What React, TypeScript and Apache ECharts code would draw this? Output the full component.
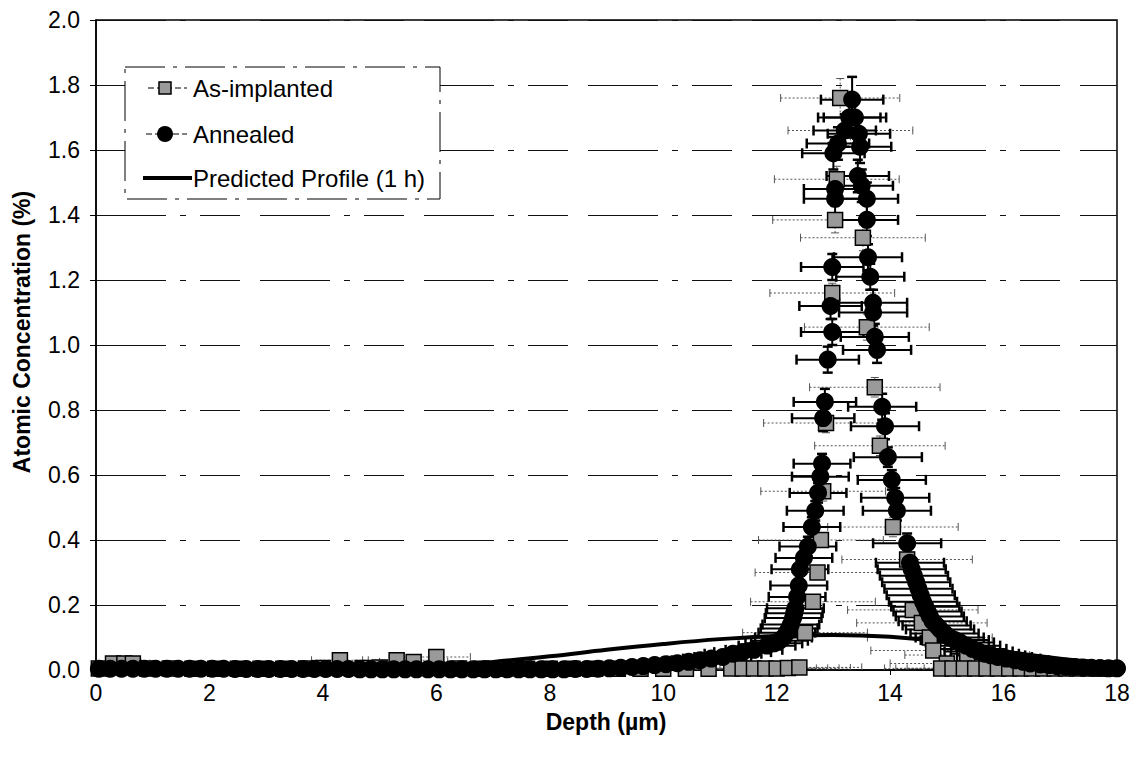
import React, { useEffect, useRef } from "react";
import * as echarts from "echarts";

// ---- axis definitions ----
const xMin = 0;
const xMax = 18;
const xStep = 2;
const yMin = 0;
const yMax = 2.0;
const yStep = 0.2;

const seriesNames = ["As-implanted", "Annealed", "Predicted Profile (1 h)"];
const xTitle = "Depth (\u00b5m)";
const yTitle = "Atomic Concentration (%)";

// ---- data: [depth, concentration, depth error, concentration error] ----
const asImplantedBase: number[][] = [
  [0.05, 0.005, 0.3, 0.01], [0.3, 0.02, 0.3, 0.01], [0.5, 0.02, 0.3, 0.01], [0.65, 0.02, 0.3, 0.01],
  [0.9, 0.005, 0.4, 0.01], [1.3, 0.005, 0.4, 0.01], [1.7, 0.004, 0.4, 0.01], [2.1, 0.004, 0.5, 0.01],
  [2.5, 0.004, 0.5, 0.01], [2.9, 0.004, 0.5, 0.01], [3.3, 0.004, 0.5, 0.01], [3.7, 0.005, 0.5, 0.01],
  [4.0, 0.006, 0.5, 0.01], [4.3, 0.03, 0.5, 0.01], [4.7, 0.006, 0.6, 0.01], [5.0, 0.008, 0.6, 0.01],
  [5.3, 0.03, 0.6, 0.01], [5.6, 0.025, 0.6, 0.01], [6.0, 0.04, 0.6, 0.01], [6.4, 0.005, 0.7, 0.01],
  [6.8, 0.004, 0.7, 0.01], [7.2, 0.004, 0.7, 0.01], [7.6, 0.004, 0.8, 0.01], [8.0, 0.004, 0.8, 0.01],
  [8.4, 0.004, 0.8, 0.01], [8.8, 0.004, 0.9, 0.01], [9.2, 0.004, 0.9, 0.01], [9.6, 0.004, 1.0, 0.01],
  [10.0, 0.004, 1.0, 0.01], [10.4, 0.004, 1.0, 0.01], [10.8, 0.004, 1.0, 0.01], [11.2, 0.005, 1.1, 0.01],
  [11.4, 0.005, 1.1, 0.01], [11.6, 0.005, 1.1, 0.01], [11.8, 0.005, 1.1, 0.01], [12.0, 0.005, 1.1, 0.01],
  [12.2, 0.006, 1.1, 0.01], [12.4, 0.008, 1.1, 0.01],
];

const asImplantedPeak: number[][] = [
  [12.5, 0.115, 1.1, 0.02], [12.64, 0.21, 1.1, 0.02], [12.72, 0.3, 1.1, 0.02], [12.78, 0.4, 1.1, 0.02],
  [12.82, 0.55, 1.1, 0.03], [12.87, 0.76, 1.1, 0.03], [12.98, 1.16, 1.1, 0.03], [13.03, 1.385, 1.1, 0.04],
  [13.06, 1.51, 1.1, 0.04], [13.12, 1.76, 1.05, 0.06], [13.3, 1.66, 1.1, 0.05], [13.52, 1.33, 1.1, 0.04],
  [13.59, 1.055, 1.1, 0.04], [13.73, 0.87, 1.15, 0.03], [13.82, 0.69, 1.15, 0.03], [14.05, 0.44, 1.15, 0.03],
  [14.3, 0.34, 1.15, 0.03], [14.4, 0.185, 1.15, 0.02], [14.56, 0.145, 1.15, 0.02], [14.7, 0.1, 1.1, 0.02],
  [14.76, 0.06, 1.1, 0.02], [15.36, 0.046, 1.1, 0.02], [15.0, 0.02, 1.0, 0.01],
];

const asImplantedTail: number[][] = [
  [14.9, 0.005, 1.0, 0.01], [15.1, 0.005, 1.0, 0.01], [15.3, 0.005, 1.0, 0.01], [15.5, 0.005, 0.9, 0.01],
  [15.7, 0.005, 0.9, 0.01], [15.9, 0.005, 0.9, 0.01], [16.1, 0.005, 0.8, 0.01], [16.3, 0.005, 0.8, 0.01],
  [16.5, 0.005, 0.8, 0.01], [16.7, 0.005, 0.7, 0.01], [16.9, 0.005, 0.7, 0.01], [17.1, 0.005, 0.6, 0.01],
  [17.3, 0.005, 0.6, 0.01], [17.5, 0.005, 0.5, 0.01], [17.7, 0.005, 0.4, 0.01], [17.9, 0.005, 0.3, 0.01],
];

const annealedBase: number[][] = [
  [0.05, 0.004, 0.3, 0.01], [0.25, 0.004, 0.3, 0.01], [0.45, 0.004, 0.3, 0.01], [0.65, 0.004, 0.3, 0.01],
  [0.85, 0.004, 0.3, 0.01], [1.05, 0.004, 0.3, 0.01], [1.25, 0.004, 0.3, 0.01], [1.45, 0.004, 0.3, 0.01],
  [1.65, 0.004, 0.3, 0.01], [1.85, 0.004, 0.3, 0.01], [2.05, 0.004, 0.3, 0.01], [2.25, 0.004, 0.3, 0.01],
  [2.45, 0.003, 0.3, 0.01], [2.65, 0.003, 0.3, 0.01], [2.85, 0.003, 0.3, 0.01], [3.05, 0.003, 0.3, 0.01],
  [3.25, 0.003, 0.3, 0.01], [3.45, 0.003, 0.3, 0.01], [3.65, 0.003, 0.3, 0.01], [3.85, 0.003, 0.3, 0.01],
  [4.05, 0.003, 0.3, 0.01], [4.25, 0.003, 0.3, 0.01], [4.45, 0.003, 0.3, 0.01], [4.65, 0.002, 0.3, 0.01],
  [4.85, 0.002, 0.3, 0.01], [5.05, 0.002, 0.3, 0.01], [5.25, 0.002, 0.3, 0.01], [5.45, 0.002, 0.3, 0.01],
  [5.65, 0.002, 0.3, 0.01], [5.85, 0.002, 0.3, 0.01], [6.05, 0.002, 0.3, 0.01], [6.25, 0.002, 0.3, 0.01],
  [6.45, 0.002, 0.3, 0.01], [6.65, 0.002, 0.3, 0.01], [6.85, 0.002, 0.3, 0.01], [7.05, 0.002, 0.3, 0.01],
  [7.25, 0.002, 0.3, 0.01], [7.45, 0.002, 0.3, 0.01], [7.65, 0.002, 0.3, 0.01], [7.85, 0.002, 0.3, 0.01],
  [8.05, 0.002, 0.3, 0.01], [8.25, 0.002, 0.3, 0.01], [8.45, 0.003, 0.3, 0.01], [8.65, 0.003, 0.3, 0.01],
  [8.85, 0.004, 0.3, 0.01], [9.05, 0.005, 0.3, 0.01], [9.25, 0.007, 0.3, 0.01], [9.45, 0.009, 0.3, 0.01],
  [9.65, 0.012, 0.3, 0.01], [9.85, 0.015, 0.3, 0.01], [10.05, 0.018, 0.3, 0.01], [10.25, 0.021, 0.3, 0.01],
  [10.45, 0.025, 0.3, 0.01],
];

const annealedPeak: number[][] = [
  [10.65, 0.03, 0.5, 0.01], [10.85, 0.035, 0.5, 0.01], [11.05, 0.04, 0.5, 0.01], [11.23, 0.05, 0.5, 0.01],
  [11.4, 0.055, 0.5, 0.01], [11.6, 0.062, 0.5, 0.01], [11.83, 0.075, 0.5, 0.01], [11.95, 0.082, 0.5, 0.01],
  [12.05, 0.09, 0.5, 0.01], [12.12, 0.1, 0.5, 0.02], [12.18, 0.115, 0.5, 0.02], [12.22, 0.128, 0.5, 0.02],
  [12.25, 0.14, 0.5, 0.02], [12.29, 0.16, 0.5, 0.02], [12.31, 0.175, 0.5, 0.02], [12.33, 0.19, 0.5, 0.02],
  [12.36, 0.225, 0.5, 0.02], [12.39, 0.26, 0.5, 0.02], [12.41, 0.31, 0.5, 0.02], [12.48, 0.345, 0.5, 0.02],
  [12.55, 0.38, 0.5, 0.03], [12.62, 0.44, 0.5, 0.03], [12.68, 0.49, 0.5, 0.03], [12.73, 0.545, 0.5, 0.03],
  [12.77, 0.595, 0.5, 0.03], [12.8, 0.635, 0.5, 0.03], [12.82, 0.775, 0.55, 0.04], [12.85, 0.825, 0.55, 0.04],
  [12.9, 0.955, 0.55, 0.04], [12.98, 1.04, 0.55, 0.04], [12.95, 1.12, 0.55, 0.04], [12.98, 1.24, 0.55, 0.04],
  [13.03, 1.45, 0.55, 0.05], [13.03, 1.48, 0.55, 0.05], [13.0, 1.59, 0.55, 0.05], [13.08, 1.62, 0.55, 0.05],
  [13.2, 1.66, 0.55, 0.05], [13.28, 1.7, 0.55, 0.05], [13.33, 1.755, 0.55, 0.07], [13.38, 1.7, 0.55, 0.05],
  [13.45, 1.65, 0.55, 0.05], [13.47, 1.61, 0.55, 0.05], [13.43, 1.52, 0.55, 0.05], [13.5, 1.49, 0.55, 0.05],
  [13.59, 1.45, 0.55, 0.05], [13.59, 1.385, 0.55, 0.05], [13.61, 1.27, 0.6, 0.04], [13.65, 1.21, 0.6, 0.04],
  [13.7, 1.13, 0.6, 0.04], [13.7, 1.1, 0.6, 0.04], [13.73, 1.025, 0.6, 0.04], [13.77, 0.985, 0.6, 0.04],
  [13.86, 0.81, 0.6, 0.04], [13.91, 0.75, 0.6, 0.04], [13.96, 0.655, 0.6, 0.03], [14.03, 0.585, 0.6, 0.03],
  [14.09, 0.53, 0.6, 0.03], [14.12, 0.49, 0.6, 0.03], [14.3, 0.39, 0.6, 0.03], [14.35, 0.33, 0.6, 0.03],
  [14.38, 0.31, 0.6, 0.03], [14.42, 0.29, 0.6, 0.02], [14.46, 0.27, 0.6, 0.02], [14.5, 0.25, 0.6, 0.02],
  [14.54, 0.23, 0.6, 0.02], [14.58, 0.21, 0.6, 0.02], [14.62, 0.195, 0.6, 0.02], [14.66, 0.18, 0.6, 0.02],
  [14.7, 0.165, 0.6, 0.02], [14.75, 0.15, 0.6, 0.02], [14.82, 0.137, 0.6, 0.02], [14.88, 0.125, 0.6, 0.02],
  [14.96, 0.112, 0.6, 0.02], [15.05, 0.1, 0.6, 0.02], [15.14, 0.092, 0.6, 0.01], [15.23, 0.085, 0.6, 0.01],
  [15.34, 0.075, 0.6, 0.01], [15.45, 0.065, 0.6, 0.01], [15.56, 0.057, 0.6, 0.01], [15.67, 0.05, 0.6, 0.01],
  [15.78, 0.045, 0.6, 0.01], [15.9, 0.04, 0.6, 0.01], [16.05, 0.035, 0.6, 0.01], [16.2, 0.03, 0.6, 0.01],
  [16.35, 0.025, 0.6, 0.01], [16.47, 0.02, 0.6, 0.01], [16.65, 0.017, 0.6, 0.01], [16.8, 0.015, 0.6, 0.01],
  [16.95, 0.012, 0.5, 0.01], [17.1, 0.01, 0.5, 0.01], [17.25, 0.009, 0.5, 0.01], [17.4, 0.008, 0.5, 0.01],
  [17.55, 0.007, 0.4, 0.01], [17.7, 0.006, 0.4, 0.01], [17.85, 0.005, 0.3, 0.01], [18.0, 0.005, 0.3, 0.01],
];

const predictedX = [0, 2, 4, 5, 6, 7, 8, 9, 10, 11, 12, 13, 14, 15, 16, 17, 18];
const predictedY = [0.0, 0.001, 0.003, 0.006, 0.012, 0.025, 0.042, 0.062, 0.08, 0.095, 0.105, 0.108, 0.102, 0.085, 0.058, 0.035, 0.02];

const asImplanted = [...asImplantedBase, ...asImplantedPeak, ...asImplantedTail];
const annealed = [...annealedBase, ...annealedPeak];
const predicted = predictedX.map((x, i) => [x, predictedY[i]]);

const FONT = "Liberation Sans, Arial, Helvetica, sans-serif";

function errorRenderer(color: string, dash: number[] | null, barWidth: number, capWidth: number, cap: number) {
  return (params: any, api: any) => {
    const x = api.value(0);
    const y = api.value(1);
    const xe = api.value(2);
    const ye = api.value(3);
    const l = api.coord([x - xe, y]);
    const r = api.coord([x + xe, y]);
    const t = api.coord([x, y + ye]);
    const b = api.coord([x, y - ye]);
    const bar = { stroke: color, lineWidth: barWidth, lineDash: dash || undefined };
    const capS = { stroke: color, lineWidth: capWidth };
    return {
      type: "group",
      children: [
        { type: "line", shape: { x1: l[0], y1: l[1], x2: r[0], y2: r[1] }, style: bar },
        { type: "line", shape: { x1: l[0], y1: l[1] - cap, x2: l[0], y2: l[1] + cap }, style: capS },
        { type: "line", shape: { x1: r[0], y1: r[1] - cap, x2: r[0], y2: r[1] + cap }, style: capS },
        { type: "line", shape: { x1: t[0], y1: t[1], x2: b[0], y2: b[1] }, style: bar },
        { type: "line", shape: { x1: t[0] - cap, y1: t[1], x2: t[0] + cap, y2: t[1] }, style: capS },
        { type: "line", shape: { x1: b[0] - cap, y1: b[1], x2: b[0] + cap, y2: b[1] }, style: capS },
      ],
    };
  };
}

export default function App() {
  const ref = useRef<HTMLDivElement>(null);

  useEffect(() => {
    if (!ref.current) return;
    const chart = echarts.init(ref.current, undefined, { renderer: "svg" });

    const legendX = 125;
    const legendY = 67;
    const rowY = [88, 134, 178];

    const option: any = {
      animation: false,
      backgroundColor: "#ffffff",
      grid: {
        left: 96,
        right: 16,
        top: 20,
        bottom: 92,
        show: true,
        borderColor: "#000",
        borderWidth: 1.5,
        backgroundColor: "transparent",
      },
      xAxis: {
        type: "value",
        min: xMin,
        max: xMax,
        interval: xStep,
        axisLine: { onZero: false, lineStyle: { color: "#000", width: 1.5 } },
        axisTick: { show: true, length: 5, lineStyle: { color: "#000" } },
        axisLabel: { fontFamily: FONT, fontSize: 23, color: "#000", margin: 11 },
        splitLine: { show: false },
      },
      yAxis: {
        type: "value",
        min: yMin,
        max: yMax,
        interval: yStep,
        axisLine: { lineStyle: { color: "#000", width: 1.5 } },
        axisTick: { show: true, length: 6, lineStyle: { color: "#000" } },
        axisLabel: {
          fontFamily: FONT,
          fontSize: 23,
          color: "#000",
          margin: 16,
          formatter: (v: number) => v.toFixed(1),
        },
        splitLine: {
          show: true,
          lineStyle: { color: "#111", width: 1.2, type: [70, 14, 6, 14, 40, 20] },
        },
      },
      series: [
        {
          name: seriesNames[0] + " error",
          type: "custom",
          data: asImplanted,
          renderItem: errorRenderer("#555", [2, 2], 1, 1, 4),
          clip: true,
          z: 1,
          silent: true,
        },
        {
          name: seriesNames[1] + " error",
          type: "custom",
          data: annealed,
          renderItem: errorRenderer("#000", null, 2, 2.5, 5),
          clip: true,
          z: 2,
          silent: true,
        },
        {
          name: seriesNames[2],
          type: "line",
          data: predicted,
          smooth: 0.4,
          showSymbol: false,
          lineStyle: { color: "#000", width: 4 },
          clip: true,
          z: 3,
        },
        {
          name: seriesNames[0],
          type: "scatter",
          data: asImplanted.map((d) => [d[0], d[1]]),
          symbol: "rect",
          symbolSize: 15,
          itemStyle: { color: "#9a9a9a", borderColor: "#000", borderWidth: 1.5, opacity: 1 },
          clip: true,
          z: 4,
        },
        {
          name: seriesNames[1],
          type: "scatter",
          data: annealed.map((d) => [d[0], d[1]]),
          symbol: "circle",
          symbolSize: 18,
          itemStyle: { color: "#000", opacity: 1 },
          clip: true,
          z: 5,
        },
      ],
      graphic: [
        {
          type: "text",
          x: 606,
          y: 722,
          style: {
            text: xTitle,
            font: `bold 23px ${FONT}`,
            fill: "#000",
            textAlign: "center",
            verticalAlign: "middle",
          },
        },
        {
          type: "text",
          x: 22,
          y: 332,
          rotation: Math.PI / 2,
          style: {
            text: yTitle,
            font: `bold 23px ${FONT}`,
            fill: "#000",
            textAlign: "center",
            verticalAlign: "middle",
          },
        },
        {
          type: "rect",
          z: 100,
          shape: { x: legendX, y: legendY, width: 315, height: 132 },
          style: { fill: "#fff", stroke: "#000", lineWidth: 1, lineDash: [40, 8, 4, 8] },
        },
        {
          type: "line",
          z: 101,
          shape: { x1: 148, y1: rowY[0], x2: 187, y2: rowY[0] },
          style: { stroke: "#000", lineWidth: 1, lineDash: [6, 3] },
        },
        {
          type: "rect",
          z: 102,
          shape: { x: 159, y: rowY[0] - 6, width: 12, height: 12 },
          style: { fill: "#9a9a9a", stroke: "#000", lineWidth: 1.5 },
        },
        {
          type: "text",
          z: 102,
          x: 193,
          y: rowY[0],
          style: { text: seriesNames[0], font: `24px ${FONT}`, fill: "#000", verticalAlign: "middle" },
        },
        {
          type: "line",
          z: 101,
          shape: { x1: 146, y1: rowY[1], x2: 187, y2: rowY[1] },
          style: { stroke: "#000", lineWidth: 1, lineDash: [6, 3] },
        },
        {
          type: "circle",
          z: 102,
          shape: { cx: 165, cy: rowY[1], r: 8 },
          style: { fill: "#000" },
        },
        {
          type: "text",
          z: 102,
          x: 193,
          y: rowY[1],
          style: { text: seriesNames[1], font: `24px ${FONT}`, fill: "#000", verticalAlign: "middle" },
        },
        {
          type: "line",
          z: 101,
          shape: { x1: 143, y1: rowY[2], x2: 192, y2: rowY[2] },
          style: { stroke: "#000", lineWidth: 4 },
        },
        {
          type: "text",
          z: 102,
          x: 193,
          y: rowY[2],
          style: { text: seriesNames[2], font: `24px ${FONT}`, fill: "#000", verticalAlign: "middle" },
        },
      ],
    };

    chart.setOption(option);
    return () => chart.dispose();
  }, []);

  return (
    <div
      ref={ref}
      style={{ position: "fixed", left: 0, top: 0, width: 1133, height: 762, background: "#fff" }}
    />
  );
}
